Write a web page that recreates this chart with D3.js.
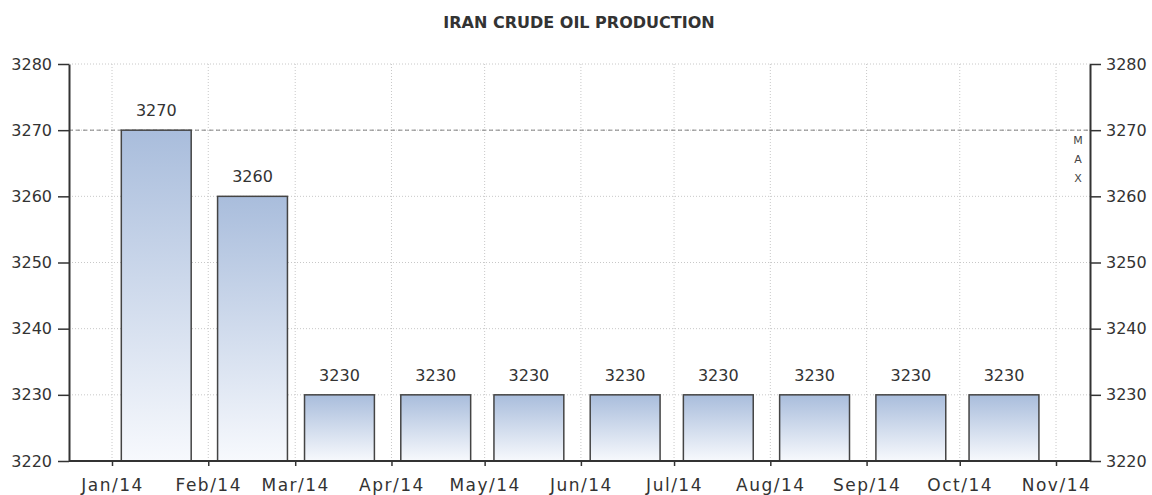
<!DOCTYPE html>
<html>
<head>
<meta charset="utf-8">
<script src="https://cdn.jsdelivr.net/npm/d3@7"></script>
<style>
  body { margin: 0; background: #fff; }
  text { font-family: "DejaVu Sans", sans-serif; fill: #333; }
</style>
</head>
<body>
<script>
// chart data
const months = ["2014-01", "2014-02", "2014-03", "2014-04", "2014-05",
                "2014-06", "2014-07", "2014-08", "2014-09", "2014-10"];
const production = [3270, 3260, 3230, 3230, 3230, 3230, 3230, 3230, 3230, 3230];
const yTicks = [3220, 3230, 3240, 3250, 3260, 3270, 3280];
const maxValue = 3270;

const parseMonth = d3.timeParse("%Y-%m");
const data = months.map((m, i) => ({date: parseMonth(m), value: production[i]}));

const width = 1152, height = 495;
const plot = {left: 69, right: 1090, top: 64, bottom: 461};

const svg = d3.select("body").append("svg")
    .attr("width", width)
    .attr("height", height);

// gradient for the bars
const grad = svg.append("defs").append("linearGradient")
    .attr("id", "barGrad")
    .attr("x1", 0).attr("y1", 0).attr("x2", 0).attr("y2", 1);
grad.append("stop").attr("offset", "0%").attr("stop-color", "#a9bddc");
grad.append("stop").attr("offset", "100%").attr("stop-color", "#f7f9fd");

// scales
const x = d3.scaleTime()
    .domain([new Date(2014, 0, 1), new Date(2014, 10, 1)])
    .range([112, 1056]);

const y = d3.scaleLinear()
    .domain([3220, 3280])
    .range([plot.bottom, plot.top]);

const monthTicks = d3.timeMonth.range(new Date(2014, 0, 1), new Date(2014, 10, 2));

// grid lines
svg.append("g")
    .selectAll("line")
    .data(yTicks)
    .join("line")
    .attr("x1", plot.left).attr("x2", plot.right)
    .attr("y1", d => y(d)).attr("y2", d => y(d))
    .attr("stroke", "#c8c8c8")
    .attr("stroke-dasharray", "1,2");

svg.append("g")
    .selectAll("line")
    .data(monthTicks)
    .join("line")
    .attr("x1", d => x(d)).attr("x2", d => x(d))
    .attr("y1", plot.top).attr("y2", plot.bottom)
    .attr("stroke", "#c8c8c8")
    .attr("stroke-dasharray", "1,2");

// max line
svg.append("line")
    .attr("x1", plot.left).attr("x2", plot.right)
    .attr("y1", y(maxValue)).attr("y2", y(maxValue))
    .attr("stroke", "#808080")
    .attr("stroke-dasharray", "4,3");

svg.append("g")
    .selectAll("text")
    .data(["M", "A", "X"])
    .join("text")
    .attr("x", plot.right - 12)
    .attr("y", (d, i) => y(maxValue) + 14 + i * 19)
    .attr("text-anchor", "middle")
    .style("font-size", "11px")
    .style("fill", "#444")
    .text(d => d);

// bars
const dayMs = 24 * 3600 * 1000;
const barStart = d => new Date(+d.date + 3 * dayMs);
const barEnd = d => new Date(+d.date + 25.5 * dayMs);

svg.append("g")
    .selectAll("rect")
    .data(data)
    .join("rect")
    .attr("x", d => x(barStart(d)))
    .attr("width", d => x(barEnd(d)) - x(barStart(d)))
    .attr("y", d => y(d.value))
    .attr("height", d => y(3220) - y(d.value))
    .attr("fill", "url(#barGrad)")
    .attr("stroke", "#444")
    .attr("stroke-width", 1.5);

// value labels
svg.append("g")
    .selectAll("text")
    .data(data)
    .join("text")
    .attr("x", d => (x(barStart(d)) + x(barEnd(d))) / 2)
    .attr("y", d => y(d.value) - 14)
    .attr("text-anchor", "middle")
    .style("font-size", "16px")
    .text(d => d.value);

// left axis
const left = svg.append("g")
    .attr("transform", `translate(${plot.left},0)`)
    .call(d3.axisLeft(y).tickValues(yTicks).tickFormat(d3.format("d"))
        .tickSize(11).tickPadding(6).tickSizeOuter(0));

// right axis
const right = svg.append("g")
    .attr("transform", `translate(${plot.right},0)`)
    .call(d3.axisRight(y).tickValues(yTicks).tickFormat(d3.format("d"))
        .tickSize(11).tickPadding(5).tickSizeOuter(0));

// bottom axis
const bottom = svg.append("g")
    .attr("transform", `translate(0,${plot.bottom})`)
    .call(d3.axisBottom(x).tickValues(monthTicks).tickFormat(d3.timeFormat("%b/%y"))
        .tickSize(5).tickPadding(13));
bottom.select(".domain").remove();

svg.append("line")
    .attr("x1", plot.left).attr("x2", plot.right)
    .attr("y1", plot.bottom).attr("y2", plot.bottom)
    .attr("stroke", "#333")
    .attr("stroke-width", 2);

[left, right, bottom].forEach(g => {
    g.selectAll(".domain").attr("stroke", "#333").attr("stroke-width", 2);
    g.selectAll(".tick line").attr("stroke", "#333").attr("stroke-width", 1.5);
    g.selectAll(".tick text")
        .style("font-family", '"DejaVu Sans", sans-serif')
        .style("font-size", "16px")
        .attr("fill", "#333");
});
bottom.selectAll(".tick text")
    .style("font-size", "17px")
    .style("letter-spacing", "1.5px");

// chart title
svg.append("text")
    .attr("x", 579)
    .attr("y", 28)
    .attr("text-anchor", "middle")
    .style("font-size", "16px")
    .style("font-weight", "bold")
    .text("IRAN CRUDE OIL PRODUCTION");
</script>
</body>
</html>
